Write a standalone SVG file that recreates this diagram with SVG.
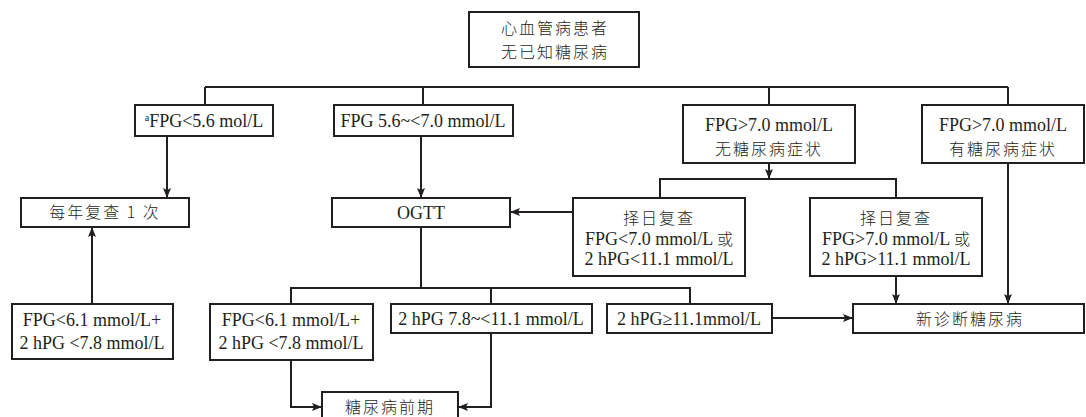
<svg xmlns="http://www.w3.org/2000/svg" width="1086" height="417" viewBox="0 0 1086 417">
<style>
.box{fill:#fff;stroke:#231f20;stroke-width:2}
.ln{fill:none;stroke:#231f20;stroke-width:2}
.ar{fill:none;stroke:#231f20;stroke-width:2;marker-end:url(#ah)}
.t{font-family:'Liberation Serif','Times New Roman','DejaVu Serif','Noto Sans CJK SC',serif;font-size:18px;fill:#231f20;text-anchor:middle}
.cj{font-family:'Noto Sans CJK SC','Noto Sans CJK JP',sans-serif;font-size:16px;font-weight:300;letter-spacing:2px;fill:#231f20;text-anchor:middle}
.c{font-family:'Noto Sans CJK SC',sans-serif;font-size:16px;font-weight:300}
</style>
<defs>
<marker id="ah" markerUnits="userSpaceOnUse" markerWidth="10" markerHeight="8" refX="10" refY="4" orient="auto">
<path d="M0,0 L10,4 L0,8 L2,4 z" fill="#231f20"/>
</marker>
</defs>
<rect width="1086" height="417" fill="#fff"/>
<g id="connectors">
<line class="ln" x1="205" y1="87" x2="1008" y2="87"/>
<line class="ln" x1="205" y1="87" x2="205" y2="105"/>
<line class="ln" x1="423" y1="87" x2="423" y2="105"/>
<line class="ln" x1="769" y1="87" x2="769" y2="105"/>
<line class="ln" x1="1008" y1="87" x2="1008" y2="105"/>
<line class="ar" x1="167" y1="136" x2="167" y2="198"/>
<line class="ar" x1="421" y1="136" x2="421" y2="198"/>
<line class="ar" x1="769" y1="163" x2="769" y2="179"/>
<polyline class="ln" points="660,198 660,179 896,179 896,198"/>
<line class="ar" x1="573" y1="212" x2="510" y2="212"/>
<line class="ar" x1="896" y1="276" x2="896" y2="304"/>
<line class="ar" x1="1008" y1="163" x2="1008" y2="304"/>
<line class="ln" x1="421" y1="227" x2="421" y2="288"/>
<polyline class="ln" points="291,304 291,288 690,288 690,304"/>
<line class="ln" x1="491" y1="288" x2="491" y2="304"/>
<line class="ar" x1="92" y1="304" x2="92" y2="227"/>
<polyline class="ar" points="291,360 291,407 322,407"/>
<polyline class="ar" points="491,333 491,407 458,407"/>
<line class="ar" x1="772" y1="318" x2="853" y2="318"/>
</g>
<g id="n-top">
<rect class="box" x="469" y="12" width="170" height="55"/>
<text class="cj" x="555" y="34">心血管病患者</text>
<text class="cj" x="555" y="58">无已知糖尿病</text>
</g>
<g id="n-fpg56">
<rect class="box" x="135" y="105" width="138" height="31"/>
<text class="t" x="204" y="127"><tspan font-size="10" dy="-6">a</tspan><tspan dy="6">FPG&lt;5.6 mol/L</tspan></text>
</g>
<g id="n-fpg5670">
<rect class="box" x="334" y="105" width="179" height="31"/>
<text class="t" x="423" y="127">FPG 5.6~&lt;7.0 mmol/L</text>
</g>
<g id="n-fpg70-no">
<rect class="box" x="683" y="105" width="172" height="58"/>
<text class="t" x="769" y="131">FPG&gt;7.0 mmol/L</text>
<text class="cj" x="769" y="155">无糖尿病症状</text>
</g>
<g id="n-fpg70-yes">
<rect class="box" x="922" y="105" width="162" height="58"/>
<text class="t" x="1003" y="131">FPG&gt;7.0 mmol/L</text>
<text class="cj" x="1003" y="155">有糖尿病症状</text>
</g>
<g id="n-annual">
<rect class="box" x="21" y="198" width="168" height="29"/>
<text class="cj" x="105" y="218">每年复查 1 次</text>
</g>
<g id="n-ogtt">
<rect class="box" x="332" y="198" width="178" height="29"/>
<text class="t" x="421" y="219">OGTT</text>
</g>
<g id="n-retest-low">
<rect class="box" x="573" y="198" width="172" height="78"/>
<text class="cj" x="659" y="224">择日复查</text>
<text class="t" x="659" y="245">FPG&lt;7.0 mmol/L <tspan class="c">或</tspan></text>
<text class="t" x="659" y="265">2 hPG&lt;11.1 mmol/L</text>
</g>
<g id="n-retest-high">
<rect class="box" x="810" y="198" width="172" height="78"/>
<text class="cj" x="896" y="224">择日复查</text>
<text class="t" x="896" y="245">FPG&gt;7.0 mmol/L <tspan class="c">或</tspan></text>
<text class="t" x="896" y="265">2 hPG&gt;11.1 mmol/L</text>
</g>
<g id="n-normal-left">
<rect class="box" x="12" y="304" width="161" height="55"/>
<text class="t" x="92" y="326">FPG&lt;6.1 mmol/L+</text>
<text class="t" x="92" y="349">2 hPG &lt;7.8 mmol/L</text>
</g>
<g id="n-normal-mid">
<rect class="box" x="210" y="304" width="163" height="56"/>
<text class="t" x="291" y="326">FPG&lt;6.1 mmol/L+</text>
<text class="t" x="291" y="349">2 hPG &lt;7.8 mmol/L</text>
</g>
<g id="n-igt">
<rect class="box" x="391" y="304" width="201" height="29"/>
<text class="t" x="491" y="325">2 hPG 7.8~&lt;11.1 mmol/L</text>
</g>
<g id="n-high">
<rect class="box" x="607" y="304" width="165" height="29"/>
<text class="t" x="689" y="325">2 hPG≥11.1mmol/L</text>
</g>
<g id="n-newdm">
<rect class="box" x="853" y="304" width="231" height="29"/>
<text class="cj" x="970" y="325">新诊断糖尿病</text>
</g>
<g id="n-pre">
<rect class="box" x="322" y="392" width="136" height="35"/>
<text class="cj" x="390" y="413">糖尿病前期</text>
</g>
</svg>
